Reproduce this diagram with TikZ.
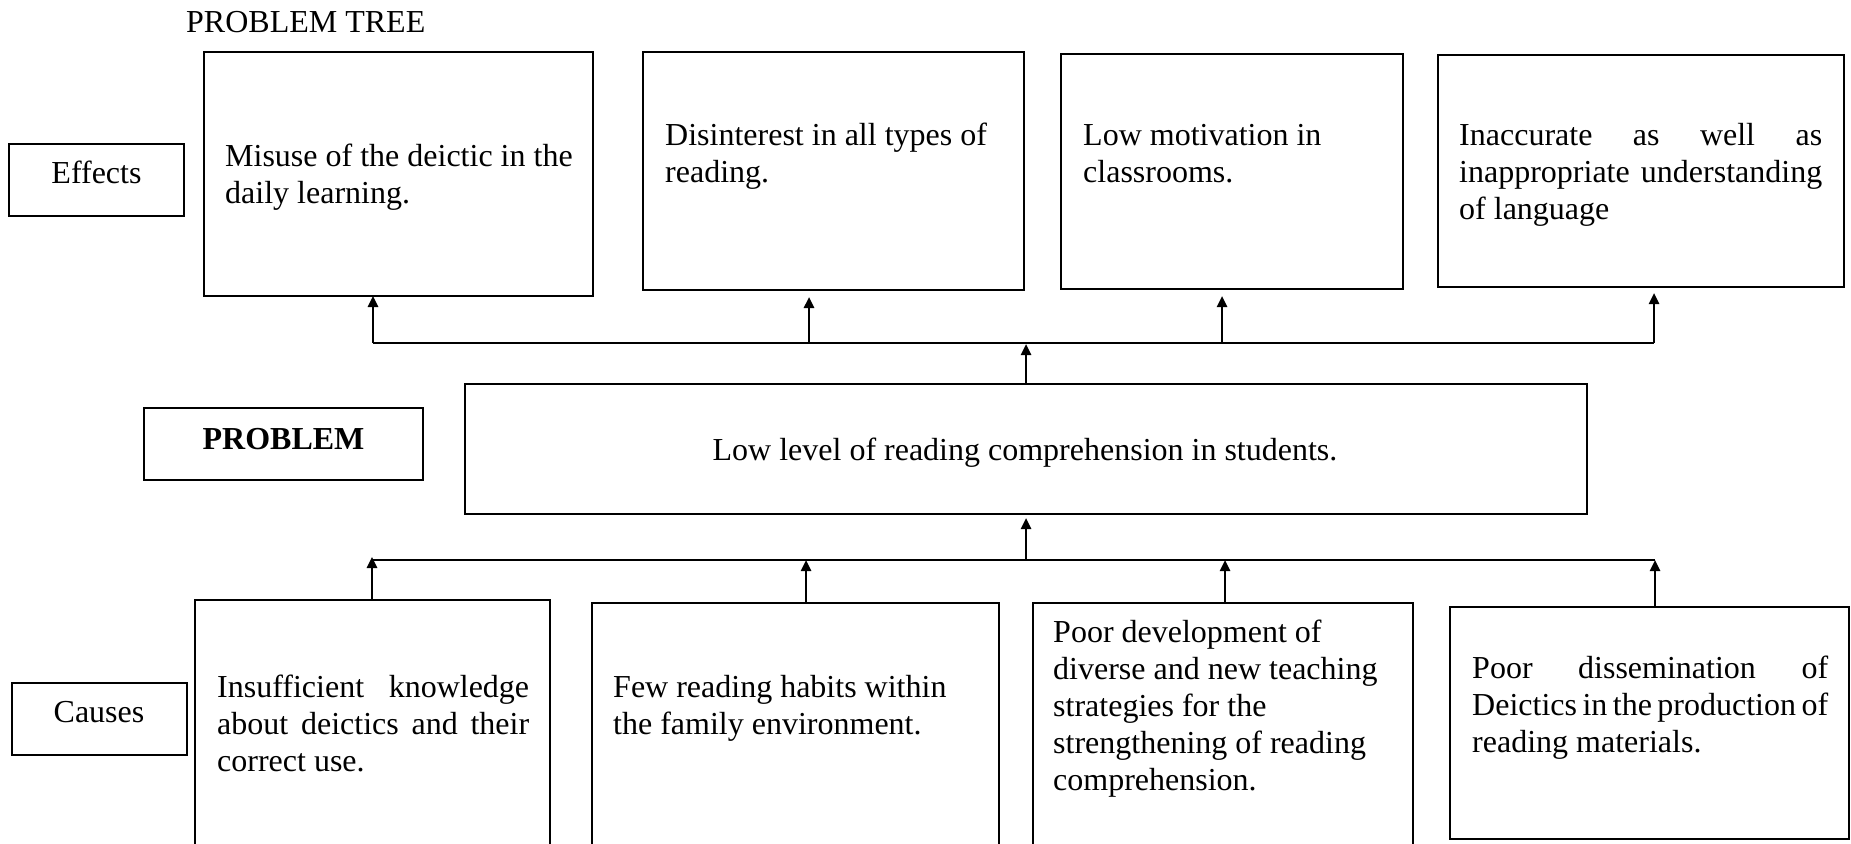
\documentclass[tikz,border=0pt]{standalone}
\usepackage{fontspec}
\setmainfont{Liberation Serif}
\usetikzlibrary{arrows.meta}
\begin{document}
\begin{tikzpicture}[x=1pt,y=-1pt,
  box/.style={draw, line width=2.7pt, inner sep=0pt, outer sep=0pt, anchor=north west},
  lbl/.style={inner sep=0pt, anchor=base, font=\fontsize{32}{37}\selectfont},
  txt/.style={inner sep=0pt, anchor=north west, align=left, font=\fontsize{32}{37}\selectfont},
  conn/.style={line width=2.5pt},
  arr/.style={line width=2.5pt, -{Triangle[length=11pt,width=10pt]}}
]
\useasboundingbox (0,0) rectangle (1851,843);
\clip (0,0) rectangle (1851,843);

% title
\node[inner sep=0pt, anchor=base west, font=\fontsize{32}{37}\selectfont] (title) at (186,33) {PROBLEM TREE};

% side labels
\node[box, minimum width=175pt, minimum height=72pt] (eff) at (9,144) {};
\node[lbl] (efft) at (96.5,183) {Effects};
\node[box, minimum width=279pt, minimum height=72pt] (prob) at (144,408) {};
\node[lbl, font=\fontsize{32}{37}\selectfont\bfseries] (probt) at (283.5,449) {PROBLEM};
\node[box, minimum width=175pt, minimum height=72pt] (cau) at (12,683) {};
\node[lbl] (caut) at (99,722) {Causes};

% effect boxes
\node[box, minimum width=389pt, minimum height=244pt] (e1) at (204,52) {};
\node[box, minimum width=381pt, minimum height=238pt] (e2) at (643,52) {};
\node[box, minimum width=342pt, minimum height=235pt] (e3) at (1061,54) {};
\node[box, minimum width=406pt, minimum height=232pt] (e4) at (1438,55) {};

\node[txt] (te1) at (225,140) {\strut Misuse of the deictic in the\\daily learning.};
\node[txt] (te2) at (665,119) {\strut Disinterest in all types of\\reading.};
\node[txt] (te3) at (1083,119) {\strut Low motivation in\\classrooms.};
\node[txt] (te4) at (1459,119) {\strut\hbox to 363pt{Inaccurate\hfill as\hfill well\hfill as}\\\hbox to 363pt{inappropriate\hfill understanding}\\of language};

% main problem
\node[box, minimum width=1122pt, minimum height=130pt] (main) at (465,384) {};
\node[lbl] (maint) at (1025,460) {Low level of reading comprehension in students.};

% cause boxes
\node[box, minimum width=355pt, minimum height=300pt] (c1) at (195,600) {};
\node[box, minimum width=407pt, minimum height=300pt] (c2) at (592,603) {};
\node[box, minimum width=380pt, minimum height=300pt] (c3) at (1033,603) {};
\node[box, minimum width=399pt, minimum height=232pt] (c4) at (1450,607) {};

\node[txt] (tc1) at (217,671) {\strut\hbox to 312pt{Insufficient\hfill knowledge}\\\hbox to 312pt{about\hfill deictics\hfill and\hfill their}\\correct use.};
\node[txt] (tc2) at (613,671) {\strut Few reading habits within\\the family environment.};
\node[txt] (tc3) at (1053,616) {\strut Poor development of\\diverse and new teaching\\strategies for the\\strengthening of reading\\comprehension.};
\node[txt] (tc4) at (1472,652) {\strut\hbox to 356pt{Poor\hfill dissemination\hfill of}\\\hbox to 356pt{Deictics\hfill in\hfill the\hfill production\hfill of}\\reading materials.};

% effect connectors
\coordinate (ea) at (373,343);
\coordinate (eb) at (809,343);
\coordinate (ec) at (1222,343);
\coordinate (ed) at (1654,343);
\draw[conn] (ea) -- (ed);
\draw[arr] (ea) -- (ea |- e1.south);
\draw[arr, shorten >=7pt] (eb) -- (eb |- e2.south);
\draw[arr, shorten >=7pt] (ec) -- (ec |- e3.south);
\draw[arr, shorten >=6pt] (ed) -- (ed |- e4.south);
\draw[arr, shorten >=1pt] (main.north) -- (main.north |- ea);

% cause connectors
\coordinate (ca) at (372,560);
\coordinate (cb) at (806,560);
\coordinate (cc) at (1225,560);
\coordinate (cd) at (1655,560);
\draw[conn] (ca) -- (cd);
\draw[arr, shorten >=4pt] (main.south |- ca) -- (main.south);
\draw[arr, shorten >=-3pt] (ca |- c1.north) -- (ca);
\draw[arr] (cb |- c2.north) -- (cb);
\draw[arr] (cc |- c3.north) -- (cc);
\draw[arr] (cd |- c4.north) -- (cd);
\end{tikzpicture}
\end{document}
